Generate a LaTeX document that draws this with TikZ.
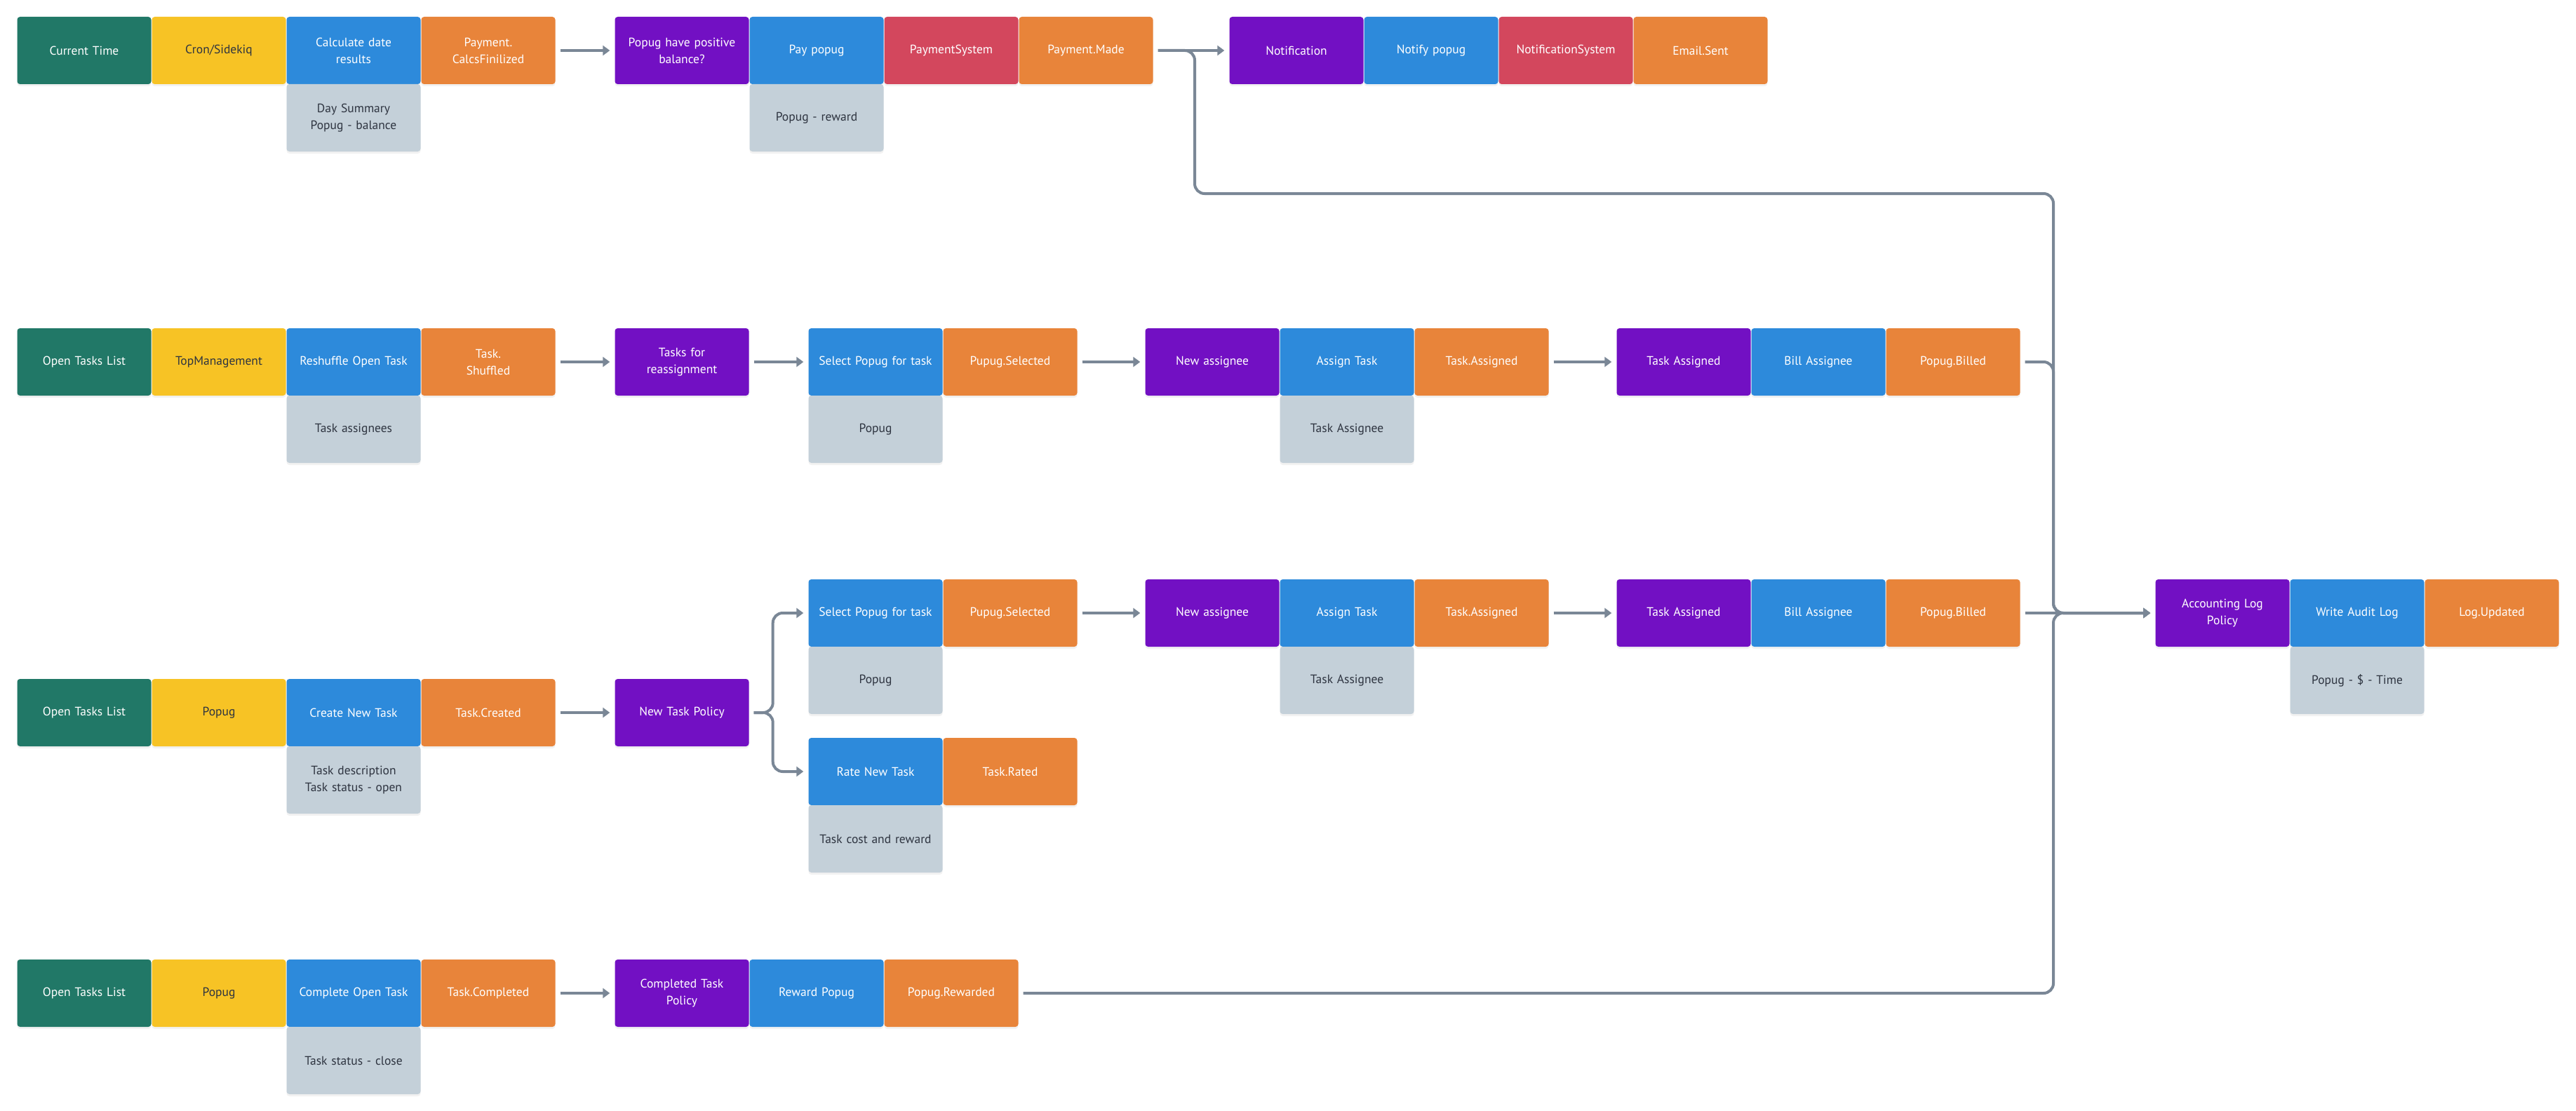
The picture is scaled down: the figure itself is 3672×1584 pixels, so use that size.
\documentclass[tikz,border=0pt]{standalone}
\usepackage{fontspec}
\setmainfont{PT Sans}
\usetikzlibrary{arrows.meta,shadows,calc}

\definecolor{evgreen}{HTML}{217867}
\definecolor{evyellow}{HTML}{F7C325}
\definecolor{evblue}{HTML}{2D8ADB}
\definecolor{evorange}{HTML}{E8843A}
\definecolor{evpurple}{HTML}{7210C3}
\definecolor{evred}{HTML}{D3475D}
\definecolor{evgrey}{HTML}{C4D0D9}
\definecolor{evdark}{HTML}{2E3440}
\definecolor{evline}{HTML}{7A8796}

\tikzset{
  card/.style={rectangle, rounded corners=4pt, minimum width=191pt, minimum height=96pt,
    inner sep=0pt, text width=180pt, align=center, font=\fontsize{17.5}{24}\selectfont,
    drop shadow={opacity=0.10, shadow xshift=0pt, shadow yshift=-3pt}},
  actor/.style={card, fill=evgreen, text=white},
  trigger/.style={card, fill=evyellow, text=evdark},
  command/.style={card, fill=evblue, text=white},
  event/.style={card, fill=evorange, text=white},
  policy/.style={card, fill=evpurple, text=white},
  extsys/.style={card, fill=evred, text=white},
  datacard/.style={card, fill=evgrey, text=evdark},
  flow/.style={draw=evline, line width=4pt, -{Triangle[length=10pt,width=14pt]}},
  bus/.style={draw=evline, line width=4pt, rounded corners=14pt},
}

\begin{document}
\begin{tikzpicture}[x=1pt, y=-1pt]
\fill[white] (0,0) rectangle (3672,1584);
\useasboundingbox (0,0) rectangle (3672,1584);

% ---- Daily payout ----
\node[actor]   (ct)    at (120,72)  {Current Time};
\node[trigger] (cron)  at (312,72)  {Cron/Sidekiq};
\node[command] (calc)  at (504,72)  {Calculate date\\results};
\node[datacard](calcd) at (504,168) {Day Summary\\Popug - balance};
\node[event]   (pcf)   at (696,72)  {Payment.\\CalcsFinilized};
\node[policy]  (ppb)   at (972,72)  {Popug have positive\\balance?};
\node[command] (pay)   at (1164,72) {Pay popug};
\node[datacard](payd)  at (1164,168){Popug - reward};
\node[extsys]  (psys)  at (1356,72) {PaymentSystem};
\node[event]   (pmade) at (1548,72) {Payment.Made};
\node[policy]  (notif) at (1848,72) {Notification};
\node[command] (nfy)   at (2040,72) {Notify popug};
\node[extsys]  (nsys)  at (2232,72) {NotificationSystem};
\node[event]   (mail)  at (2424,72) {Email.Sent};

% ---- Reshuffle ----
\node[actor]   (otl2)  at (120,516)  {Open Tasks List};
\node[trigger] (tm)    at (312,516)  {TopManagement};
\node[command] (rsh)   at (504,516)  {Reshuffle Open Task};
\node[datacard](rshd)  at (504,612)  {Task assignees};
\node[event]   (tsh)   at (696,516)  {Task.\\Shuffled};
\node[policy]  (tfr)   at (972,516)  {Tasks for\\reassignment};
\node[command] (selA)  at (1248,516) {Select Popug for task};
\node[datacard](selAd) at (1248,612) {Popug};
\node[event]   (psA)   at (1440,516) {Pupug.Selected};
\node[policy]  (naA)   at (1728,516) {New assignee};
\node[command] (atA)   at (1920,516) {Assign Task};
\node[datacard](atAd)  at (1920,612) {Task Assignee};
\node[event]   (taA)   at (2112,516) {Task.Assigned};
\node[policy]  (tasA)  at (2400,516) {Task Assigned};
\node[command] (baA)   at (2592,516) {Bill Assignee};
\node[event]   (pbA)   at (2784,516) {Popug.Billed};

% ---- New task ----
\node[actor]   (otl3)  at (120,1016) {Open Tasks List};
\node[trigger] (pp3)   at (312,1016) {Popug};
\node[command] (cnt)   at (504,1016) {Create New Task};
\node[datacard](cntd)  at (504,1112) {Task description\\Task status - open};
\node[event]   (tcr)   at (696,1016) {Task.Created};
\node[policy]  (ntp)   at (972,1016) {New Task Policy};
\node[command] (selB)  at (1248,874) {Select Popug for task};
\node[datacard](selBd) at (1248,970) {Popug};
\node[event]   (psB)   at (1440,874) {Pupug.Selected};
\node[policy]  (naB)   at (1728,874) {New assignee};
\node[command] (atB)   at (1920,874) {Assign Task};
\node[datacard](atBd)  at (1920,970) {Task Assignee};
\node[event]   (taB)   at (2112,874) {Task.Assigned};
\node[policy]  (tasB)  at (2400,874) {Task Assigned};
\node[command] (baB)   at (2592,874) {Bill Assignee};
\node[event]   (pbB)   at (2784,874) {Popug.Billed};
\node[command] (rnt)   at (1248,1100) {Rate New Task};
\node[datacard](rntd)  at (1248,1196) {Task cost and reward};
\node[event]   (trt)   at (1440,1100) {Task.Rated};

% ---- Accounting log ----
\node[policy]  (alp)   at (3168,874) {Accounting Log\\Policy};
\node[command] (wal)   at (3360,874) {Write Audit Log};
\node[datacard](wald)  at (3360,970) {Popug - \$ - Time};
\node[event]   (lup)   at (3552,874) {Log.Updated};

% ---- Complete task ----
\node[actor]   (otl4)  at (120,1416) {Open Tasks List};
\node[trigger] (pp4)   at (312,1416) {Popug};
\node[command] (cot)   at (504,1416) {Complete Open Task};
\node[datacard](cotd)  at (504,1512) {Task status - close};
\node[event]   (tcm)   at (696,1416) {Task.Completed};
\node[policy]  (ctp)   at (972,1416) {Completed Task\\Policy};
\node[command] (rwp)   at (1164,1416) {Reward Popug};
\node[event]   (prw)   at (1356,1416) {Popug.Rewarded};

% ---- connectors ----
\draw[flow] ($(pcf.east)+(7,0)$) -- ($(ppb.west)+(-7,0)$);
\draw[flow] ($(pmade.east)+(7,0)$) -- ($(notif.west)+(-7,0)$);
\draw[flow] ($(tsh.east)+(7,0)$) -- ($(tfr.west)+(-7,0)$);
\draw[flow] ($(tfr.east)+(7,0)$) -- ($(selA.west)+(-7,0)$);
\draw[flow] ($(psA.east)+(7,0)$) -- ($(naA.west)+(-7,0)$);
\draw[flow] ($(taA.east)+(7,0)$) -- ($(tasA.west)+(-7,0)$);
\draw[flow] ($(tcr.east)+(7,0)$) -- ($(ntp.west)+(-7,0)$);
\draw[flow] ($(psB.east)+(7,0)$) -- ($(naB.west)+(-7,0)$);
\draw[flow] ($(taB.east)+(7,0)$) -- ($(tasB.west)+(-7,0)$);
\draw[flow] ($(tcm.east)+(7,0)$) -- ($(ctp.west)+(-7,0)$);

% fork after the new task policy
\draw[flow, rounded corners=14pt] ($(ntp.east)+(7,0)$) -- ++(27,0) |- ($(selB.west)+(-7,0)$);
\draw[flow, rounded corners=14pt] ($(ntp.east)+(7,0)$) -- ++(27,0) |- ($(rnt.west)+(-7,0)$);

% collecting bus into the accounting log policy
\coordinate (drop) at (1703,276);
\coordinate (busTop) at (2927,276);
\coordinate (busMid) at (2927,874);
\coordinate (busLow) at (2927,1416);
\draw[flow, bus] ($(pmade.east)+(7,0)$) -| (drop) -- (busTop) -- (busMid) -- ($(alp.west)+(-7,0)$);
\draw[flow, bus] ($(pbA.east)+(7,0)$) -| (busMid) -- ($(alp.west)+(-7,0)$);
\draw[flow, bus] ($(prw.east)+(7,0)$) -- (busLow) -- (busMid) -- ($(alp.west)+(-7,0)$);
\draw[flow] ($(pbB.east)+(7,0)$) -- ($(alp.west)+(-7,0)$);
\end{tikzpicture}
\end{document}
